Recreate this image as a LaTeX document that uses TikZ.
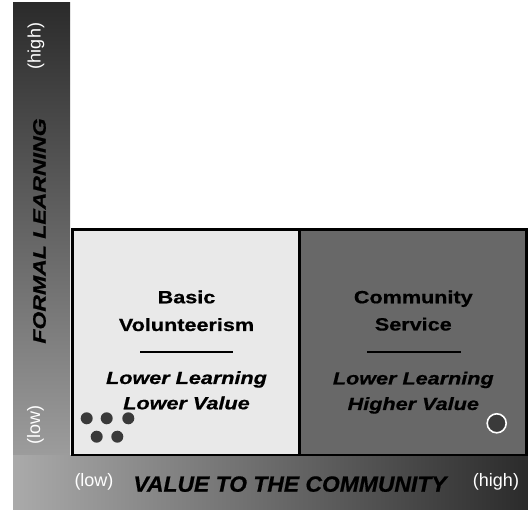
\documentclass[tikz,border=0pt]{standalone}
\usepackage{fontspec}
\setmainfont{Liberation Sans}
\newfontfamily\boxfont[FakeStretch=1.22, FakeBold=0.7]{Liberation Sans}
\newfontfamily\vaxfont[FakeStretch=1.28, FakeBold=0.7]{Liberation Sans}
\newfontfamily\haxfont[FakeStretch=1.04, FakeBold=0.7]{Liberation Sans}
\definecolor{bardark}{HTML}{2B2B2B}
\definecolor{barlight}{HTML}{AAAAAA}
\definecolor{lightbox}{HTML}{E9E9E9}
\definecolor{darkbox}{HTML}{686868}
\definecolor{dotcol}{HTML}{3A3A3A}
\tikzset{
  quad/.style={draw=black, line width=2.8pt, inner sep=0pt, minimum width=227pt, minimum height=225.5pt},
  title/.style={font=\boxfont\fontsize{17.7}{20}\selectfont\bfseries, anchor=base, inner sep=0pt, text=black},
  sub/.style={font=\boxfont\fontsize{17.7}{20}\selectfont\bfseries\itshape, anchor=base, inner sep=0pt, text=black},
  hint/.style={font=\fontsize{18}{20}\selectfont, text=white, inner sep=0pt},
  vaxis/.style={font=\vaxfont\fontsize{18}{20}\selectfont\bfseries\itshape, text=black, inner sep=0pt, rotate=90},
  haxis/.style={font=\haxfont\fontsize{22}{24}\selectfont\bfseries\itshape, text=black, inner sep=0pt, anchor=base},
  dot/.style={circle, fill=dotcol, minimum size=12pt, inner sep=0pt},
  ring/.style={circle, fill=dotcol, draw=white, line width=1.6pt, minimum size=19pt, inner sep=0pt},
  divider/.style={line width=2.2pt, black}
}
\begin{document}
\begin{tikzpicture}[x=1pt, y=-1pt]
\useasboundingbox (0,0) rectangle (528,510);
\fill[white] (0,0) rectangle (528,510);
% gradient frame
\shade[top color=bardark, bottom color=barlight] (13,3) rectangle (70,510);
\shade[left color=barlight, right color=bardark] (13,456) rectangle (528,510);
% quadrants
\node[quad, fill=lightbox] (bv) at (186,342.25) {};
\node[quad, fill=darkbox] (cs) at (413,342.25) {};
% left quadrant text
\node[title] (bv1) at (186.5,303.3) {Basic};
\node[title] (bv2) at (186.5,331) {Volunteerism};
\coordinate (bvl1) at (140,351.7);
\coordinate (bvl2) at (233,351.7);
\draw[divider] (bvl1) -- (bvl2);
\node[sub] (bv3) at (186.5,384) {Lower Learning};
\node[sub] (bv4) at (186.5,409.3) {Lower Value};
% right quadrant text
\node[title] (cs1) at (413.3,303.3) {Community};
\node[title] (cs2) at (413.3,330.5) {Service};
\coordinate (csl1) at (367,351.7);
\coordinate (csl2) at (461,351.7);
\draw[divider] (csl1) -- (csl2);
\node[sub] (cs3) at (413.3,384.5) {Lower Learning};
\node[sub] (cs4) at (413.3,410) {Higher Value};
% dots
\node[dot] (d1) at (86.7,418.3) {};
\node[dot] (d2) at (106.7,418.3) {};
\node[dot] (d3) at (128.3,418.3) {};
\node[dot] (d4) at (96.7,436.7) {};
\node[dot] (d5) at (117.3,436.7) {};
\node[ring] (r1) at (496.7,423.3) {};
% axes labels
\node[hint, rotate=90] (yhigh) at (36,46) {(high)};
\node[vaxis] (ylab) at (39.5,231) {FORMAL LEARNING};
\node[hint, rotate=90] (ylow) at (35.5,425) {(low)};
\node[hint] (xlow) at (94,482) {(low)};
\node[haxis] (xlab) at (290,491.7) {VALUE TO THE COMMUNITY};
\node[hint] (xhigh) at (496,482) {(high)};
\end{tikzpicture}
\end{document}
